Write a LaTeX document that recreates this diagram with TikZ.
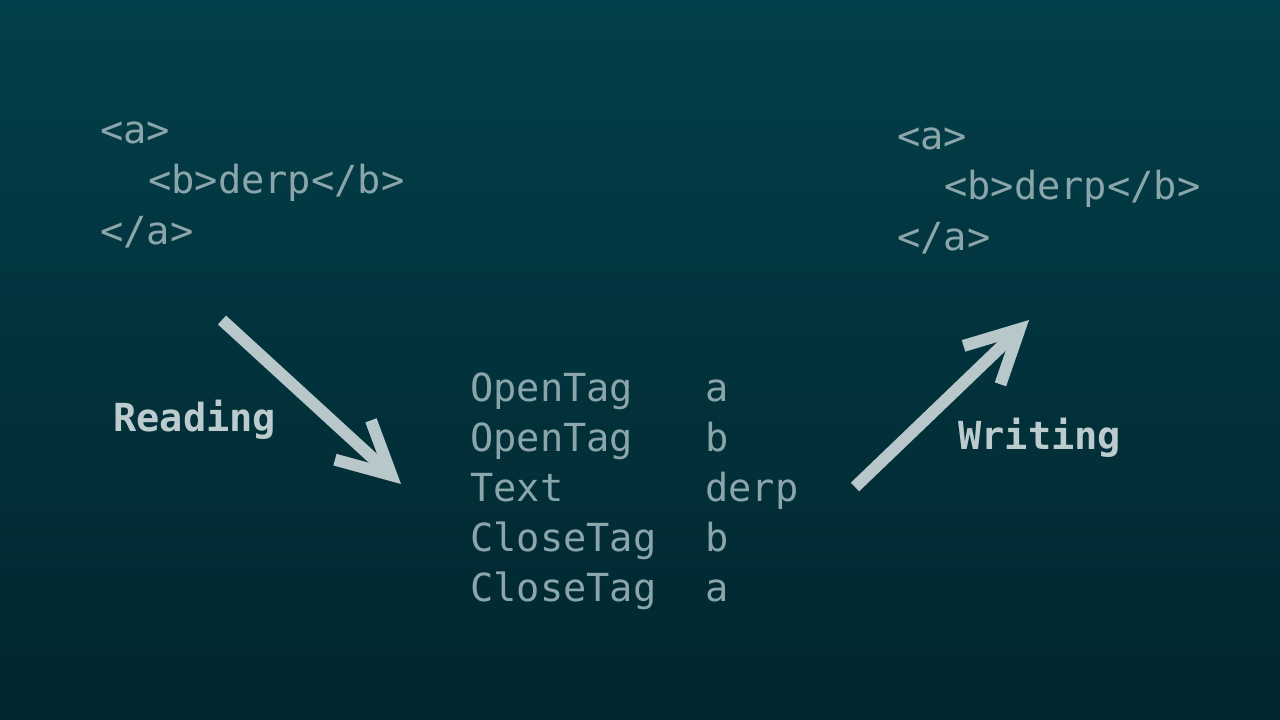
\documentclass[tikz,border=0pt]{standalone}
\usepackage{fontspec}
\usetikzlibrary{arrows.meta,positioning}
\newfontfamily\codefont{DejaVu Sans Mono}
\definecolor{bgtop}{RGB}{3,63,74}
\definecolor{bgbot}{RGB}{1,38,46}
\definecolor{codec}{RGB}{139,166,170}
\definecolor{labc}{RGB}{188,203,205}
\definecolor{arrc}{RGB}{184,199,202}
\tikzset{code/.style={anchor=base west,inner sep=0pt,text=codec,font=\codefont\fontsize{29pt}{37.5pt}\selectfont},lab/.style={code,text=labc,font=\codefont\bfseries\fontsize{29pt}{37.5pt}\selectfont},flow/.style={-{Straight Barb[length=39pt,width=40pt]},line width=9pt,draw=arrc}}

\begin{document}
\begin{tikzpicture}[x=0.75pt,y=-0.75pt]
\shade[top color=bgtop,bottom color=bgbot] (0,0) rectangle (1280,720);
\useasboundingbox (0,0) rectangle (1280,720);
% source document
\node[code] (srca) at (100,144) {<a>};
\node[code] (srcb) at (148,194) {<b>derp</b>};
\node[code] (srcc) at (100,244) {</a>};
% event stream
\node[code] (ev1) at (470,401) {OpenTag};
\node[code] (ev2) at (470,451) {OpenTag};
\node[code] (ev3) at (470,501) {Text};
\node[code] (ev4) at (470,551) {CloseTag};
\node[code] (ev5) at (470,601) {CloseTag};
\node[code] (arg1) at (705,401) {a};
\node[code] (arg2) at (705,451) {b};
\node[code] (arg3) at (705,501) {derp};
\node[code] (arg4) at (705,551) {b};
\node[code] (arg5) at (705,601) {a};
% output document
\node[code] (outa) at (897,150) {<a>};
\node[code] (outb) at (944,200) {<b>derp</b>};
\node[code] (outc) at (897,250) {</a>};
% arrows
\coordinate (rd0) at (222,320);
\coordinate (rd1) at (401,484);
\coordinate (wr0) at (855,487);
\coordinate (wr1) at (1029,320);
\draw[flow] (rd0)--(rd1);
\draw[flow] (wr0)--(wr1);
\node[lab] (read) at (113,431) {Reading};
\node[lab] (write) at (958,449) {Writing};
\end{tikzpicture}
\end{document}
